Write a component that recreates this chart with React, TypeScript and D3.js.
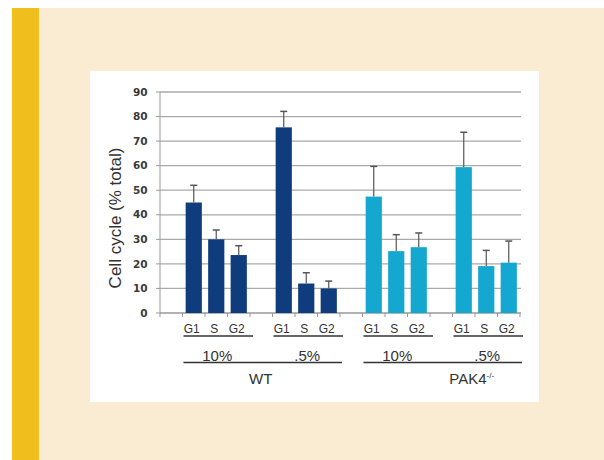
import React from "react";
import * as d3 from "d3";

const genotypes = ["WT", "PAK4"];
const serumLabels = ["10%", ".5%"];
const phases = ["G1", "S", "G2"];
const yTicks = [0, 10, 20, 30, 40, 50, 60, 70, 80, 90];

// values per genotype, order: 10% G1,S,G2 then .5% G1,S,G2
const wtValues = [45, 30, 23.6, 75.6, 12, 10];
const wtErrors = [7, 3.8, 3.8, 6.5, 4.4, 3];
const pakValues = [47.4, 25.2, 26.8, 59.4, 19.1, 20.5];
const pakErrors = [12.3, 6.7, 5.8, 14.2, 6.4, 8.8];

const colors = ["#0f3c7d", "#14a7d0"];

const W = 604, H = 460;
const x0 = 160, x1 = 520, yBase = 313, yTop = 92;

export default function App() {
  const slots: string[] = [];
  genotypes.forEach((g) =>
    serumLabels.forEach((s) => {
      slots.push(`${g}|${s}|gap`);
      phases.forEach((p) => slots.push(`${g}|${s}|${p}`));
    })
  );
  const x = d3.scaleBand<string>().domain(slots).range([x0, x1]).padding(0);
  const y = d3.scaleLinear().domain([0, 90]).range([yBase, yTop]);
  const bw = x.bandwidth() * 0.72;

  const bars: any[] = [];
  genotypes.forEach((g, gi) => {
    const vals = gi === 0 ? wtValues : pakValues;
    const errs = gi === 0 ? wtErrors : pakErrors;
    serumLabels.forEach((s, si) =>
      phases.forEach((p, pi) => {
        const k = si * 3 + pi;
        bars.push({ key: `${g}|${s}|${p}`, v: vals[k], e: errs[k], gi, p });
      })
    );
  });

  const groupSpan = (g: string, s: string) => {
    const a = x(`${g}|${s}|G1`)!;
    const b = x(`${g}|${s}|G2`)! + x.bandwidth();
    return [a, b];
  };

  const font = "'Liberation Sans', Arial, sans-serif";
  const txt = "#333";

  return (
    <svg width={W} height={H} style={{ position: "absolute", left: 0, top: 0 }}>
      <rect x={0} y={0} width={W} height={H} fill="#fff" />
      <rect x={39} y={8} width={W - 39} height={H - 8} fill="#faecd2" />
      <rect x={12} y={8} width={27} height={H - 8} fill="#f1bf1d" />
      <rect x={90} y={71} width={449} height={331} fill="#fff" />

      {/* gridlines */}
      {yTicks.map((t) => (
        <g key={t}>
          {t > 0 && (
            <line x1={x0} x2={521} y1={y(t)} y2={y(t)} stroke="#aaa" strokeWidth={1.3} />
          )}
          <line x1={156} x2={x0} y1={y(t)} y2={y(t)} stroke="#999" strokeWidth={1} />
          <text
            x={147.5}
            y={y(t)}
            dy="0.35em"
            textAnchor="end"
            fontFamily="'DejaVu Sans', Verdana, sans-serif"
            fontWeight="bold"
            fontSize={10.5}
            fill="#3a3a3a"
          >
            {t}
          </text>
        </g>
      ))}
      <line x1={x0} x2={x0} y1={yTop} y2={yBase} stroke="#999" strokeWidth={1} />
      <line x1={x0} x2={521} y1={yBase} y2={yBase} stroke="#999" strokeWidth={1.3} />
      {slots.map((s) => (
        <line key={s} x1={x(s)! + x.bandwidth()} x2={x(s)! + x.bandwidth()} y1={yBase} y2={yBase + 4} stroke="#999" />
      ))}
      <line x1={x0} x2={x0} y1={yBase} y2={yBase + 4} stroke="#999" />

      {/* bars */}
      {bars.map((b) => {
        const cx = x(b.key)! + x.bandwidth() / 2;
        return (
          <g key={b.key}>
            <rect x={cx - bw / 2} y={y(b.v)} width={bw} height={yBase - y(b.v)} fill={colors[b.gi]} />
            <line x1={cx} x2={cx} y1={y(b.v)} y2={y(b.v + b.e)} stroke="#555" strokeWidth={1.2} />
            <line x1={cx - 3.5} x2={cx + 3.5} y1={y(b.v + b.e)} y2={y(b.v + b.e)} stroke="#555" strokeWidth={1.5} />
            <text x={cx - 2} y={333} textAnchor="middle" fontFamily={font} fontSize={12} fill={txt}>
              {b.p}
            </text>
          </g>
        );
      })}

      {/* group underlines and labels */}
      {genotypes.map((g, gi) => {
        const spans = serumLabels.map((s) => groupSpan(g, s));
        const gx0 = spans[0][0] + 1;
        const gx1 = spans[1][1] + 2;
        return (
          <g key={g}>
            {serumLabels.map((s, si) => {
              const [a, b] = spans[si];
              return (
                <g key={s}>
                  <line x1={a + 1} x2={b + 3} y1={336} y2={336} stroke="#333" strokeWidth={1.4} />
                  <text x={(a + b) / 2 + 1} y={360.5} textAnchor="middle" fontFamily={font} fontSize={15} fill={txt}>
                    {s}
                  </text>
                </g>
              );
            })}
            <line x1={gx0} x2={gx1} y1={362.5} y2={362.5} stroke="#333" strokeWidth={1.4} />
            {gi === 0 ? (
              <text x={(gx0 + gx1) / 2 - 2} y={384} textAnchor="middle" fontFamily={font} fontSize={15} fill={txt}>
                {g}
              </text>
            ) : (
              <text x={(gx0 + gx1) / 2 + 29} y={384} textAnchor="middle" fontFamily={font} fontSize={15} fill={txt}>
                {g}
                <tspan fontSize={8} dy={-6}>-/-</tspan>
              </text>
            )}
          </g>
        );
      })}

      {/* y title */}
      <text
        transform={`translate(121,218) rotate(-90)`}
        textAnchor="middle"
        fontFamily={font}
        fontSize={17}
        fill={txt}
      >
        Cell cycle (% total)
      </text>
    </svg>
  );
}
